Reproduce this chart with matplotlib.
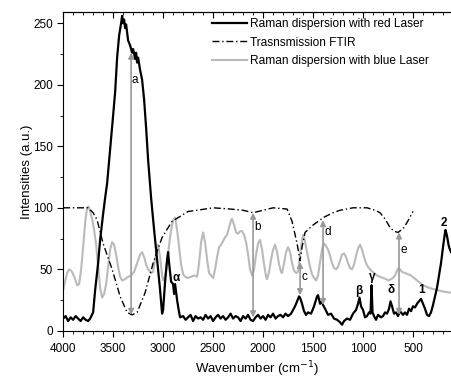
import matplotlib
matplotlib.use("Agg")
import matplotlib.pyplot as plt
from matplotlib.ticker import MultipleLocator, NullFormatter

plt.rcParams["font.family"] = ["Liberation Sans", "DejaVu Sans"]

# Raman, red laser (black line), noise by eye
red_x = [4000, 3975, 3950, 3925, 3900, 3875, 3850, 3825, 3800, 3775, 3750, 3730,
         3700, 3680, 3650, 3630, 3600, 3580, 3560, 3530, 3500, 3480, 3460, 3440,
         3420, 3410, 3400, 3390, 3380, 3370, 3350, 3330, 3310, 3300, 3280, 3270,
         3260, 3250, 3230, 3210, 3190, 3170, 3150, 3120, 3090, 3060, 3030, 3010,
         3000, 2980, 2960, 2950, 2940, 2920, 2900, 2890, 2880, 2860, 2840, 2830,
         2800, 2775, 2750, 2725, 2700, 2675, 2650, 2625, 2600, 2575, 2550, 2525,
         2500, 2475, 2450, 2425, 2400, 2375, 2350, 2325, 2300, 2275, 2250, 2225,
         2200, 2175, 2150, 2125, 2100, 2075, 2050, 2025, 2000, 1975, 1950, 1925,
         1900, 1875, 1850, 1825, 1800, 1775, 1750,
         1720, 1700, 1680, 1660, 1640, 1630, 1610, 1590, 1570, 1550, 1520, 1490,
         1460, 1450, 1430, 1410, 1400, 1380, 1350, 1320, 1290, 1260, 1230, 1210,
         1190, 1160, 1130, 1100, 1070, 1050, 1035, 1020, 1000, 980, 960, 940,
         925, 915, 905, 890, 870, 850, 820, 800, 780, 760, 740, 725, 710, 690,
         670, 650, 630, 600, 580, 560, 540, 520, 500, 480, 460, 440, 420, 400,
         380, 360, 340, 320, 300, 280, 260, 240, 220, 200, 185, 175, 165, 155,
         145, 135, 120]
red_y = [10, 12, 8, 11, 9, 12, 10, 8, 11, 9, 8, 10,
         15, 33, 55, 74, 95, 108, 120, 147, 175, 194, 222, 240,
         250, 256, 250, 253, 246, 249, 236, 232, 226, 229, 221, 226,
         218, 222, 212, 204, 188, 165, 139, 108, 82, 58, 33, 14,
         17, 40, 58, 64, 55, 40, 38, 30, 38, 25, 15, 11,
         12, 9, 11, 13, 8, 12, 10, 11, 9, 13, 10, 12,
         8, 11, 13, 10, 12, 9, 11, 14, 10, 12, 11, 8,
         12, 10, 13, 9, 8, 11, 13, 10, 12, 9, 13, 11,
         14, 10, 12, 13, 11, 14, 12,
         14, 17, 20, 24, 28, 27, 22, 16, 13, 15, 14, 20,
         28, 29, 22, 24, 21, 18, 13, 14, 10, 9, 7, 5,
         8, 10, 9, 14, 17, 22, 27, 20, 17, 11, 12, 15,
         14, 37, 15, 12, 9, 13, 11, 12, 15, 14, 18, 24, 20, 14,
         15, 12, 16, 13, 15, 13, 18, 16, 20, 19, 22, 24, 26, 22,
         18, 13, 12, 15, 21, 28, 35, 45, 55, 68, 77, 82, 79, 75,
         70, 67, 64]

# Transmission FTIR (dash-dot)
ftir_x = [4000, 3800, 3750, 3700, 3660, 3600, 3510, 3430, 3360, 3310, 3260,
          3180, 3100, 3010, 2910, 2830, 2750, 2660, 2500, 2330, 2200, 2100,
          2000, 1900, 1760, 1710, 1660, 1630, 1610, 1580, 1500, 1430, 1400,
          1300, 1230, 1100, 960, 880, 830, 780, 730, 690, 650, 600, 560, 500]
ftir_y = [100, 100, 100, 96, 90, 71, 50, 28, 15, 13, 15,
          31, 55, 76, 89, 93, 97, 98, 100, 99, 98, 96,
          98, 100, 99, 89, 71, 57, 68, 80, 86, 90, 92,
          96, 98, 100, 100, 98, 96, 91, 84, 81, 80, 83, 88, 97]

# Raman, blue laser (light grey)
blue_x = [4000, 3980, 3960, 3940, 3920, 3900, 3880, 3860, 3840, 3820, 3800,
          3780, 3760, 3745, 3730, 3710, 3690, 3670, 3650, 3630, 3610, 3590,
          3570, 3550, 3530, 3510, 3490, 3470, 3450, 3430, 3410, 3380, 3350,
          3320, 3290, 3260, 3230, 3210, 3190, 3170, 3150, 3120, 3100, 3080,
          3060, 3050, 3030, 3010, 3000, 2980, 2960, 2940, 2920, 2900, 2880,
          2860, 2840, 2820, 2800, 2780, 2750, 2720, 2690, 2660, 2640, 2620,
          2600, 2580, 2560, 2540, 2500, 2480, 2460, 2440, 2420, 2400, 2380,
          2360, 2340, 2320, 2310, 2290, 2270, 2250, 2230, 2210, 2190, 2170,
          2150, 2130, 2110, 2090, 2070, 2050, 2030, 2010, 1990, 1970, 1960,
          1940, 1920, 1900, 1880, 1860, 1840, 1820, 1810, 1790, 1770, 1750,
          1730, 1710, 1690, 1670, 1650, 1630, 1610, 1600, 1585, 1570, 1550,
          1530, 1510, 1490, 1470, 1450, 1430, 1410, 1400, 1390, 1370, 1350,
          1330, 1310, 1290, 1270, 1250, 1230, 1210, 1190, 1170, 1150, 1130,
          1110, 1090, 1070, 1050, 1030, 1010, 990, 970, 950, 920, 890, 860,
          830, 800, 770, 750, 720, 700, 680, 660, 645, 630, 610, 580, 550,
          520, 490, 460, 430, 400, 370, 340, 300, 250, 200, 120]
blue_y = [33, 40, 47, 50, 49, 46, 42, 37, 38, 50, 68,
          88, 100, 101, 97, 91, 82, 70, 52, 35, 27, 30,
          38, 52, 66, 72, 70, 62, 52, 44, 41, 42, 44,
          45, 48, 55, 62, 64, 60, 54, 50, 47, 48, 58,
          68, 70, 60, 45, 41, 44, 55, 70, 82, 90, 92,
          82, 68, 54, 46, 44, 43, 44, 45, 44, 55, 72,
          80, 72, 58, 47, 43, 50, 60, 68, 70, 73, 76,
          78, 84, 90, 91, 86, 80, 79, 81, 81, 78, 72,
          62, 50, 45, 50, 62, 71, 74, 66, 54, 44, 42,
          48, 58, 66, 70, 64, 54, 48, 47, 55, 64, 68,
          64, 55, 49, 47, 48, 62, 74, 78, 74, 68, 60,
          52, 46, 43, 41, 45, 56, 66, 69, 71, 69, 66,
          61, 55, 51, 50, 52, 57, 62, 63, 60, 55, 51,
          50, 54, 61, 67, 70, 66, 60, 55, 52, 49, 47, 45,
          44, 43, 42, 41, 42, 43, 45, 49, 51, 50, 48, 47, 46,
          45, 43, 41, 39, 37, 36, 35, 34, 33, 32, 31]

# double arrows: x, bottom, top, label, label x, label y
arr_x = [3320, 2100, 1630, 1400, 640]
arr_lo = [13, 11, 29, 21, 13]
arr_hi = [226, 96, 56, 90, 80]
arr_lab = ["a", "b", "c", "d", "e"]
arr_lx = [3285, 2060, 1590, 1350, 590]
arr_ly = [204, 84, 44, 80, 66]

# band labels
band_lab = ["\u03b1", "\u03b2", "\u03b3", "\u03b4", "1", "2"]
band_x = [2870, 1040, 910, 720, 410, 190]
band_y = [43, 32, 44, 33, 33, 88]

fig = plt.figure(figsize=(4.51, 3.79), dpi=100)
ax = fig.add_axes([0.140, 0.127, 0.860, 0.841])

ax.plot(red_x, red_y, color="black", lw=1.6, label="Raman dispersion with red Laser", zorder=3)
ax.plot(ftir_x, ftir_y, color="black", lw=1.0, ls=(0, (5, 2, 1, 2)),
        label="Trasnsmission FTIR", zorder=2)
ax.plot(blue_x, blue_y, color="#bababa", lw=1.5, label="Raman dispersion with blue Laser", zorder=1)

for x, lo, hi, lab, lx, ly in zip(arr_x, arr_lo, arr_hi, arr_lab, arr_lx, arr_ly):
    ax.annotate("", xy=(x, lo), xytext=(x, hi),
                arrowprops=dict(arrowstyle="<|-|>", color="#999999", lw=1.2,
                                mutation_scale=8, shrinkA=0, shrinkB=0), zorder=4)
    ax.text(lx, ly, lab, fontsize=8.5, ha="center", va="center", color="black")

for lab, x, y in zip(band_lab, band_x, band_y):
    ax.text(x, y, lab, fontsize=8.5, fontweight="bold", ha="center", va="center")

ax.set_xlim(4000, 120)
ax.set_ylim(0, 259)
ax.spines["right"].set_visible(False)
ax.xaxis.set_major_locator(MultipleLocator(500))
ax.xaxis.set_minor_locator(MultipleLocator(100))
ax.yaxis.set_major_locator(MultipleLocator(50))
ax.yaxis.set_minor_locator(MultipleLocator(25))
ax.tick_params(axis="both", which="both", direction="out", labelsize=8.5)
ax.tick_params(which="major", length=4)
ax.tick_params(which="minor", length=2.5)
ax.tick_params(axis="x", pad=5)

top = ax.secondary_xaxis("top")
top.xaxis.set_major_locator(MultipleLocator(500))
top.xaxis.set_minor_locator(MultipleLocator(100))
top.xaxis.set_major_formatter(NullFormatter())
top.tick_params(which="both", direction="in")
top.tick_params(which="major", length=4)
top.tick_params(which="minor", length=2.5)

ax.set_xlabel("Wavenumber (cm$^{-1}$)", fontsize=9.5, labelpad=3)
ax.set_ylabel("Intensities (a.u.)", fontsize=9.5)
ax.yaxis.set_label_coords(-0.078, 0.5)

ax.legend(loc="upper left", bbox_to_anchor=(212 / 451, 1 - 18 / 379),
          bbox_transform=fig.transFigure, frameon=False, fontsize=8.6,
          handlelength=2.9, handletextpad=0.3, labelspacing=0.55,
          borderpad=0, borderaxespad=0)

fig.savefig("out.png", dpi=100)
